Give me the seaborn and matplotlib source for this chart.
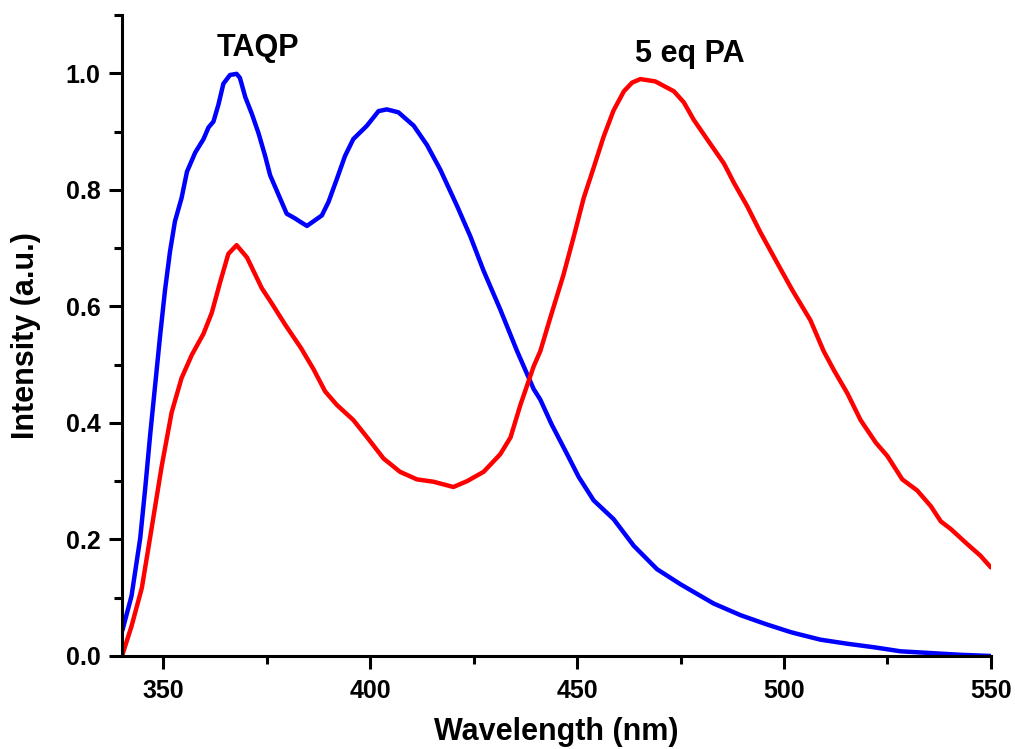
import matplotlib
matplotlib.use("Agg")
import matplotlib.pyplot as plt
from matplotlib.ticker import MultipleLocator
import pandas as pd
import seaborn as sns

taqp_nm = [340.1, 342.3, 344.4, 345.6, 346.8, 348.0, 349.2, 350.4, 351.6, 352.8,
           354.4, 355.7, 357.7, 359.7, 360.9, 362.1, 363.3, 364.5, 366.1, 367.7,
           368.5, 369.8, 371.4, 373.0, 374.6, 375.8, 377.8, 379.8, 381.8, 383.1,
           384.7, 386.3, 388.3, 389.9, 391.9, 393.9, 395.9, 399.2, 402.0, 404.0,
           406.8, 410.5, 413.7, 416.9, 421.0, 424.2, 427.4, 431.4, 435.5, 439.5,
           441.1, 443.8, 447.6, 450.4, 454.0, 458.8, 463.7, 469.3, 475.0, 483.0,
           489.5, 495.9, 501.6, 503.2, 508.8, 515.3, 521.7, 528.2, 535.5, 542.7,
           550.0]
taqp_int = [0.044, 0.103, 0.202, 0.287, 0.379, 0.464, 0.549, 0.628, 0.694, 0.746,
            0.786, 0.831, 0.864, 0.887, 0.907, 0.917, 0.946, 0.982, 0.997, 0.999,
            0.992, 0.959, 0.930, 0.897, 0.858, 0.825, 0.792, 0.759, 0.751, 0.745,
            0.738, 0.746, 0.756, 0.779, 0.818, 0.858, 0.887, 0.910, 0.935, 0.938,
            0.933, 0.910, 0.877, 0.835, 0.772, 0.720, 0.661, 0.595, 0.523, 0.458,
            0.440, 0.398, 0.346, 0.307, 0.267, 0.235, 0.189, 0.149, 0.123, 0.090,
            0.070, 0.054, 0.041, 0.038, 0.028, 0.021, 0.015, 0.008, 0.005, 0.002,
            0.000]

pa_nm = [340.0, 342.3, 344.8, 347.2, 349.6, 352.0, 354.4, 356.9, 359.7, 361.7,
         363.7, 365.7, 367.7, 370.2, 373.8, 376.2, 379.4, 383.3, 386.3, 389.1,
         391.9, 395.9, 399.6, 403.2, 407.2, 411.3, 415.3, 420.1, 423.4, 427.4,
         431.4, 433.9, 436.3, 439.5, 441.1, 443.5, 446.7, 449.2, 451.6, 454.0,
         456.4, 458.8, 461.3, 463.3, 465.3, 468.9, 473.4, 475.8, 478.2, 481.4,
         485.5, 487.9, 491.1, 494.3, 498.4, 502.0, 506.4, 509.6, 512.1, 515.3,
         518.5, 522.2, 525.0, 528.6, 532.2, 535.5, 537.9, 540.3, 544.3, 547.5,
         550.0]
pa_int = [0.000, 0.051, 0.117, 0.221, 0.326, 0.418, 0.477, 0.517, 0.553, 0.589,
          0.641, 0.690, 0.705, 0.684, 0.631, 0.605, 0.569, 0.528, 0.492, 0.454,
          0.431, 0.405, 0.372, 0.339, 0.316, 0.303, 0.299, 0.290, 0.300, 0.316,
          0.346, 0.375, 0.431, 0.497, 0.523, 0.580, 0.654, 0.720, 0.786, 0.838,
          0.891, 0.936, 0.969, 0.984, 0.990, 0.986, 0.969, 0.950, 0.920, 0.887,
          0.845, 0.812, 0.772, 0.727, 0.674, 0.628, 0.576, 0.523, 0.490, 0.451,
          0.405, 0.366, 0.343, 0.303, 0.284, 0.257, 0.231, 0.218, 0.192, 0.172,
          0.152]

series_names = ["TAQP", "5 eq PA"]
series_colors = ["#0000ff", "#ff0000"]

df = pd.concat([
    pd.DataFrame({"nm": taqp_nm, "intensity": taqp_int, "series": series_names[0]}),
    pd.DataFrame({"nm": pa_nm, "intensity": pa_int, "series": series_names[1]}),
])

sns.set_style("ticks", {"axes.edgecolor": "black", "text.color": "black",
                        "axes.labelcolor": "black", "xtick.color": "black",
                        "ytick.color": "black"})
plt.rcParams["font.family"] = ["Liberation Sans", "DejaVu Sans"]
plt.rcParams["font.weight"] = "bold"

fig = plt.figure(figsize=(10.15, 7.49), dpi=100)
ax = fig.add_axes([0.1202, 0.1242, 0.856, 0.8558])

sns.lineplot(data=df, x="nm", y="intensity", hue="series", sort=False,
             palette=dict(zip(series_names, series_colors)), linewidth=3.2,
             legend=False, ax=ax, estimator=None)

ax.set_xlim(340, 550)
ax.set_ylim(0, 1.1)
ax.xaxis.set_major_locator(MultipleLocator(50))
ax.xaxis.set_minor_locator(MultipleLocator(25))
ax.yaxis.set_major_locator(MultipleLocator(0.2))
ax.yaxis.set_minor_locator(MultipleLocator(0.1))
ax.yaxis.set_major_formatter(plt.FormatStrFormatter("%.1f"))

sns.despine(ax=ax)
for side in ["left", "bottom"]:
    ax.spines[side].set_linewidth(2.2)
    ax.spines[side].set_color("black")
ax.tick_params(which="major", direction="out", length=9.5, width=2.2,
               labelsize=18, pad=6, colors="black")
ax.tick_params(which="minor", direction="out", length=5.5, width=2.2, colors="black")
ax.tick_params(axis="x", which="major", pad=7)

ax.set_xlabel("Wavelength (nm)", fontsize=22, fontweight="bold", labelpad=10)
ax.set_ylabel("Intensity (a.u.)", fontsize=22, fontweight="bold", labelpad=18)

# curve labels
ax.text(372.9, 1.030, "TAQP", ha="center", va="baseline", fontsize=22, fontweight="bold")
ax.text(477.2, 1.019, "5 eq PA", ha="center", va="baseline", fontsize=22, fontweight="bold")

fig.savefig("out.png", dpi=100)
